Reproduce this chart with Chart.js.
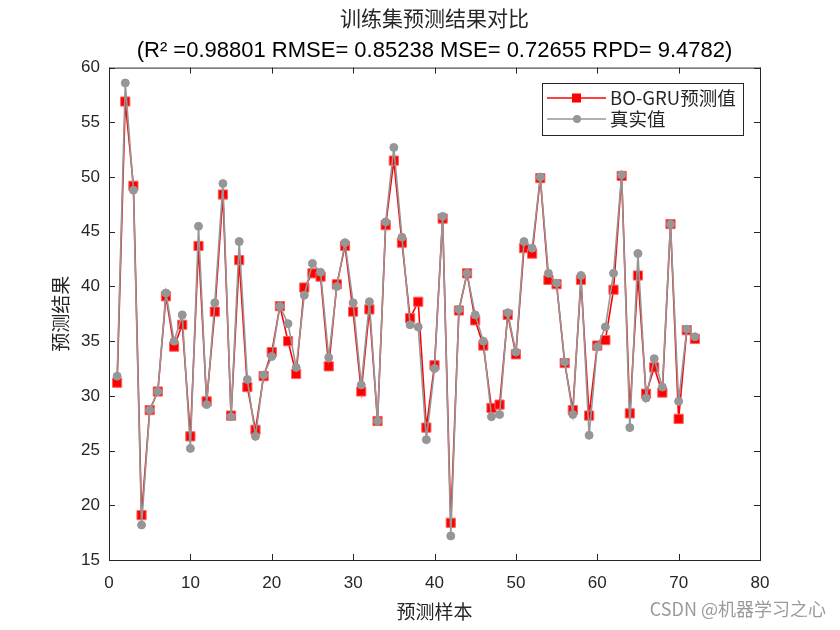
<!DOCTYPE html>
<html lang="zh">
<head>
<meta charset="UTF-8">
<title>训练集预测结果对比</title>
<script src="https://cdn.jsdelivr.net/npm/chart.js@4.4.1/dist/chart.umd.min.js"></script>
<style>
  body { margin: 0; background: #fff; }
  #wrap { width: 840px; height: 630px; }
</style>
</head>
<body>
<div id="wrap"><canvas id="myChart" width="840" height="630"></canvas></div>
<script>
// samples 1..72
const samples = Array.from({length: 72}, (v, i) => i + 1);

const predicted = [
  31.2, 56.9, 49.2, 19.1, 28.7, 30.4, 39.1, 34.5, 36.5, 26.3,
  43.7, 29.5, 37.7, 48.4, 28.2, 42.4, 30.8, 26.9, 31.8, 34.0,
  38.2, 35.0, 32.0, 39.9, 41.2, 40.9, 32.7, 40.2, 43.7, 37.7,
  30.4, 37.9, 27.7, 45.6, 51.5, 44.0, 37.1, 38.6, 27.1, 32.8,
  46.2, 18.4, 37.8, 41.2, 36.9, 34.6, 28.9, 29.2, 37.4, 33.8,
  43.5, 43.0, 49.9, 40.6, 40.2, 33.0, 28.7, 40.6, 28.2, 34.6,
  35.1, 39.7, 50.1, 28.4, 41.0, 30.2, 32.6, 30.3, 45.7, 27.9,
  36.0, 35.2
];

const actual = [
  31.8, 58.6, 48.8, 18.2, 28.7, 30.4, 39.4, 35.0, 37.4, 25.2,
  45.5, 29.2, 38.5, 49.4, 28.1, 44.1, 31.5, 26.3, 31.9, 33.6,
  38.2, 36.6, 32.6, 39.2, 42.1, 41.3, 33.5, 40.0, 44.0, 38.5,
  31.0, 38.6, 27.7, 45.9, 52.7, 44.5, 36.5, 36.3, 26.0, 32.5,
  46.4, 17.2, 37.9, 41.2, 37.4, 35.0, 28.1, 28.3, 37.6, 34.0,
  44.1, 43.5, 50.0, 41.2, 40.3, 33.1, 28.3, 41.0, 26.4, 34.5,
  36.3, 41.2, 50.2, 27.1, 43.0, 29.8, 33.4, 30.8, 45.7, 29.5,
  36.1, 35.4
];

const titleText = '训练集预测结果对比';
const subtitleText = '(R² =0.98801 RMSE= 0.85238 MSE= 0.72655 RPD= 9.4782)';
const legendNames = ['BO-GRU预测值', '真实值'];
const xTitle = '预测样本';
const yTitle = '预测结果';
const watermark = 'CSDN @机器学习之心';

const textColor = '#262626';
const redColor = '#ff0000';
const grayColor = '#969696';
const fontLatin = 'Arial, "Liberation Sans", "Noto Sans CJK SC", sans-serif';
const fontCJK = '"Noto Sans CJK SC", "Liberation Sans", sans-serif';

// box, inward ticks, legend and watermark in MATLAB style
const matlabBox = {
  id: 'matlabBox',
  beforeDraw(chart) {
    const ctx = chart.ctx;
    ctx.save();
    ctx.fillStyle = '#fff';
    ctx.fillRect(0, 0, chart.width, chart.height);
    ctx.restore();
  },
  afterDraw(chart) {
    const ctx = chart.ctx;
    const a = chart.chartArea;
    const xs = chart.scales.x, ys = chart.scales.y;
    const tl = 6;
    ctx.save();
    ctx.strokeStyle = textColor;
    ctx.lineWidth = 1;
    ctx.strokeRect(a.left + 0.5, a.top + 0.5, a.right - a.left, a.bottom - a.top);
    ctx.beginPath();
    xs.ticks.forEach(t => {
      const px = Math.round(xs.getPixelForValue(t.value)) + 0.5;
      ctx.moveTo(px, a.bottom); ctx.lineTo(px, a.bottom - tl);
      ctx.moveTo(px, a.top); ctx.lineTo(px, a.top + tl);
    });
    ys.ticks.forEach(t => {
      const py = Math.round(ys.getPixelForValue(t.value)) + 0.5;
      ctx.moveTo(a.left, py); ctx.lineTo(a.left + tl, py);
      ctx.moveTo(a.right, py); ctx.lineTo(a.right - tl, py);
    });
    ctx.stroke();

    // legend
    const lx = 542, ly = 83, lw = 201, lh = 52;
    ctx.fillStyle = '#fff';
    ctx.fillRect(lx, ly, lw, lh);
    ctx.strokeStyle = textColor;
    ctx.strokeRect(lx + 0.5, ly + 0.5, lw, lh);
    const rows = [ly + 15, ly + 36];
    chart.data.datasets.forEach((ds, i) => {
      const y = rows[i];
      ctx.strokeStyle = ds.borderColor;
      ctx.lineWidth = 1.5;
      ctx.beginPath();
      ctx.moveTo(lx + 5, y); ctx.lineTo(lx + 64, y);
      ctx.stroke();
      ctx.fillStyle = ds.pointBackgroundColor;
      if (i === 0) {
        ctx.fillRect(lx + 30, y - 4.5, 9, 9);
      } else {
        ctx.beginPath();
        ctx.arc(lx + 35, y, 4, 0, Math.PI * 2);
        ctx.fill();
      }
      ctx.fillStyle = textColor;
      ctx.font = '18.5px ' + fontCJK;
      ctx.textBaseline = 'middle';
      ctx.textAlign = 'left';
      ctx.fillText(ds.label, lx + 68, y);
    });

    // watermark
    ctx.fillStyle = '#9a9a9a';
    ctx.font = '18px ' + fontCJK;
    ctx.textAlign = 'right';
    ctx.textBaseline = 'middle';
    ctx.fillText(watermark, 826, 609);
    ctx.restore();
  }
};

const chart = new Chart('myChart', {
  type: 'line',
  data: {
    labels: samples,
    datasets: [{
      label: legendNames[0],
      data: samples.map((s, i) => ({x: s, y: predicted[i]})),
      borderColor: redColor,
      borderWidth: 1.6,
      pointStyle: 'rect',
      pointRadius: 6.5,
      pointBackgroundColor: redColor,
      pointBorderColor: '#ff6060',
      pointBorderWidth: 1,
      tension: 0,
      fill: false,
      order: 2
    }, {
      label: legendNames[1],
      data: samples.map((s, i) => ({x: s, y: actual[i]})),
      borderColor: grayColor,
      borderWidth: 1.6,
      pointStyle: 'circle',
      pointRadius: 4,
      pointBackgroundColor: grayColor,
      pointBorderColor: grayColor,
      pointBorderWidth: 1,
      tension: 0,
      fill: false,
      order: 1
    }]
  },
  options: {
    responsive: false,
    animation: false,
    devicePixelRatio: 1,
    layout: { padding: { left: 0, right: 80, top: 0, bottom: 0 } },
    plugins: {
      legend: { display: false },
      tooltip: { enabled: false },
      title: {
        display: true,
        fullSize: false,
        text: titleText,
        color: textColor,
        font: { family: fontCJK, size: 21, weight: 'normal', lineHeight: 1.2 },
        padding: { top: 5, bottom: 8 }
      },
      subtitle: {
        display: true,
        fullSize: false,
        text: subtitleText,
        color: '#000',
        font: { family: fontLatin, size: 22, weight: 'normal', lineHeight: 1.2 },
        padding: { top: 0, bottom: 3 }
      }
    },
    scales: {
      x: {
        type: 'linear',
        min: 0, max: 80,
        grid: { display: false, drawTicks: false },
        border: { display: false },
        ticks: { stepSize: 10, color: textColor, padding: 13,
                 font: { family: fontLatin, size: 17 } },
        title: { display: true, text: xTitle, color: textColor,
                 font: { family: fontCJK, size: 19 }, padding: { top: 8, bottom: 7 } },
        afterFit(scale) { scale.height = 70; }
      },
      y: {
        min: 15, max: 60,
        grid: { display: false, drawTicks: false },
        border: { display: false },
        ticks: { stepSize: 5, color: textColor, padding: 9,
                 font: { family: fontLatin, size: 17 } },
        title: { display: true, text: yTitle, color: textColor,
                 font: { family: fontCJK, size: 19 }, padding: { top: 49, bottom: 49 } },
        afterFit(scale) { scale.width = 109; }
      }
    }
  },
  plugins: [matlabBox]
});
</script>
</body>
</html>
